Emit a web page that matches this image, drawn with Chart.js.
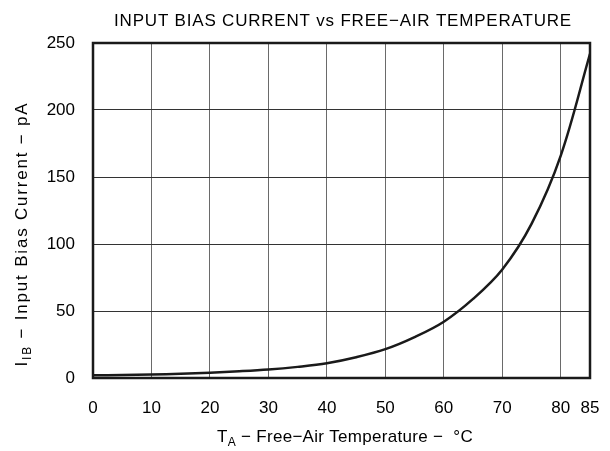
<!DOCTYPE html>
<html>
<head>
<meta charset="utf-8">
<script src="https://cdn.jsdelivr.net/npm/chart.js@4.4.1/dist/chart.umd.min.js"></script>
<style>
  body { margin: 0; background: #fff; }
</style>
</head>
<body>
<canvas id="chart-line" width="610" height="451"></canvas>

<script>
// free-air temperature (deg C) and input bias current (pA)
var temps    = [0, 5, 10, 15, 20, 25, 30, 35, 40, 45, 50, 55, 60, 65, 70, 75, 80, 85];
var biasPA   = [2, 2.2, 2.6, 3.2, 4, 5, 6.3, 8.3, 11, 15.5, 21.5, 30.5, 42, 59, 81, 115, 166, 242];
var xTicks   = [0, 10, 20, 30, 40, 50, 60, 70, 80, 85];
var yTicks   = [0, 50, 100, 150, 200, 250];

var FONT = "'Liberation Sans', Arial, sans-serif";

// draws a label made of normal and subscript pieces, left to right from x
function subText(ctx, parts, x, y) {
  var cx = x;
  parts.forEach(function (p) {
    ctx.font = (p[1] ? "12px " : "17px ") + FONT;
    ctx.fillText(p[0], cx, p[1] ? y + 6 : y);
    cx += ctx.measureText(p[0]).width;
  });
}
function partsWidth(ctx, parts) {
  var w = 0;
  parts.forEach(function (p) {
    ctx.font = (p[1] ? "12px " : "17px ") + FONT;
    w += ctx.measureText(p[0]).width;
  });
  return w;
}

var titlesPlugin = {
  id: "titles",
  afterDraw: function (chart) {
    var ctx = chart.ctx;
    var a = chart.chartArea;
    ctx.save();
    // frame round the plot
    ctx.strokeStyle = "#1a1a1a";
    ctx.lineWidth = 2.5;
    ctx.strokeRect(a.left, a.top, a.right - a.left, a.bottom - a.top);

    ctx.fillStyle = "#000";
    ctx.textBaseline = "middle";
    ctx.textAlign = "center";
    ctx.font = "17px " + FONT;
    ctx.letterSpacing = "0.8px";
    ctx.fillText("INPUT BIAS CURRENT vs FREE\u2212AIR TEMPERATURE", 343, 21);

    ctx.letterSpacing = "0.3px";
    ctx.textAlign = "left";
    var xt = [["T", false], ["A", true], [" \u2212 Free\u2212Air Temperature \u2212  \u00B0C", false]];
    var w = partsWidth(ctx, xt);
    subText(ctx, xt, 345 - w / 2, 437);

    ctx.letterSpacing = "1.8px";
    var yt = [["I", false], ["IB", true], [" \u2212 Input Bias Current \u2212 pA", false]];
    var wy = partsWidth(ctx, yt);
    ctx.translate(22, 234);
    ctx.rotate(-Math.PI / 2);
    subText(ctx, yt, -wy / 2, 0);
    ctx.restore();
  }
};

var ctx = document.getElementById("chart-line").getContext("2d");
new Chart(ctx, {
  type: "line",
  data: {
    datasets: [
      {
        label: "IIB",
        data: temps.map(function (t, i) { return { x: t, y: biasPA[i] }; }),
        borderColor: "#1a1a1a",
        borderWidth: 2.5,
        pointRadius: 0,
        tension: 0.35,
        fill: false,
      },
    ],
  },
  plugins: [titlesPlugin],
  options: {
    responsive: false,
    animation: false,
    layout: {
      padding: { left: 0, right: 0, top: 43, bottom: 0 },
    },
    plugins: {
      legend: { display: false },
      tooltip: { enabled: false },
    },
    scales: {
      x: {
        type: "linear",
        min: 0,
        max: 85,
        afterBuildTicks: function (scale) {
          scale.ticks = xTicks.map(function (v) { return { value: v }; });
        },
        afterFit: function (scale) {
          scale.height = 73;
          scale.paddingLeft = 0;
          scale.paddingRight = 20;
        },
        grid: { color: "#6a6a6a", lineWidth: 1, drawTicks: false },
        border: { display: false },
        ticks: {
          color: "#000",
          padding: 20,
          maxRotation: 0,
          autoSkip: false,
          font: { size: 17, family: FONT },
        },
      },
      y: {
        min: 0,
        max: 250,
        afterBuildTicks: function (scale) {
          scale.ticks = yTicks.map(function (v) { return { value: v }; });
        },
        afterFit: function (scale) {
          scale.width = 93;
        },
        grid: { color: "#333", lineWidth: 1, drawTicks: false },
        border: { display: false },
        ticks: {
          color: "#000",
          padding: 18,
          font: { size: 17, family: FONT },
        },
      },
    },
  },
});
</script>
</body>
</html>
